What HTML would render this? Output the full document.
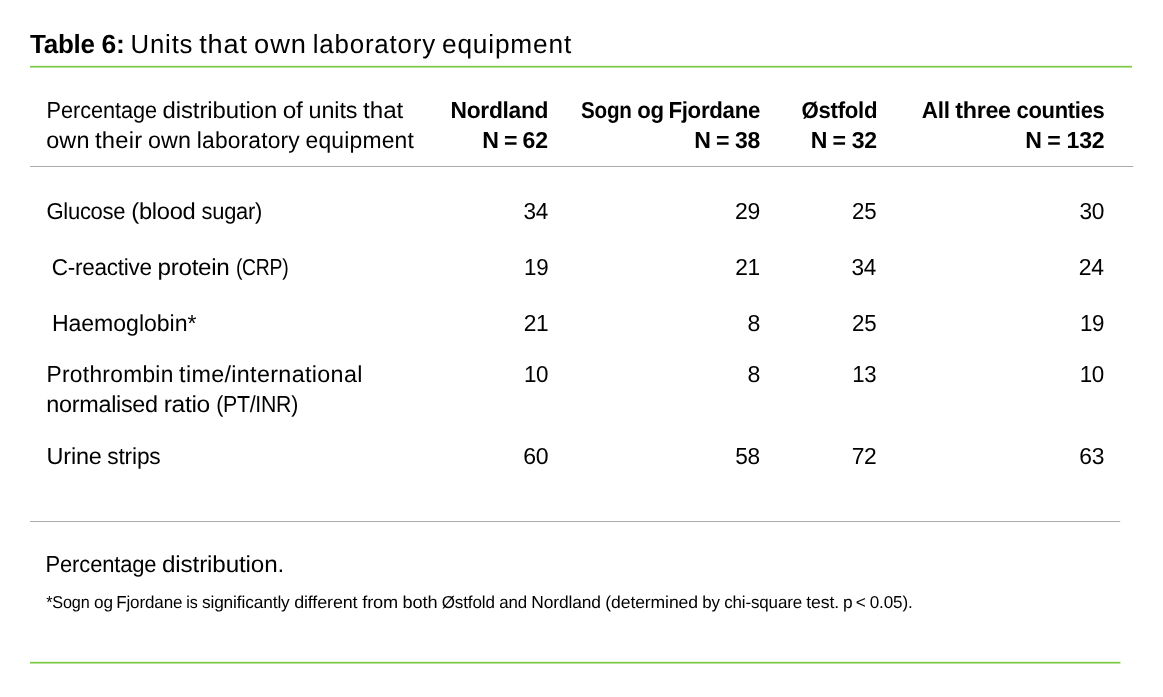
<!DOCTYPE html>
<html lang="en"><head><meta charset="utf-8"><title>Table 6</title>
<style>
html,body{margin:0;padding:0;background:#fff}
body{width:1163px;height:697px;position:relative;overflow:hidden;font-family:"Liberation Sans", sans-serif;color:#000;text-rendering:geometricPrecision}
.t{position:absolute;left:0;width:1163px;height:30px;white-space:nowrap;line-height:30px;font-weight:400;font-size:23.1px}
.t span{position:absolute;left:0;top:0;transform-origin:0 0}
.T{font-size:26.3px}
.F{font-size:17.3px}
.b{font-weight:700}
.ln{position:absolute;left:30px;height:1px;background:#acacac}
.g{height:3px;background:linear-gradient(to bottom,#ebf7e3 0,#ebf7e3 1px,#7ac943 1px,#7ac943 2px,#b6e198 2px,#b6e198 3px)}
</style></head>
<body>
<div class="ln g" style="top:65px;width:1102px"></div>
<div class="ln" style="top:166px;width:1103px;box-shadow:1px 0 0 #e6e6e6"></div>
<div class="ln" style="top:521px;width:1090px;box-shadow:1px 0 0 #ebebeb"></div>
<div class="ln g" style="top:661px;width:1090px"></div>
<div class="ln g" style="top:661px;left:1120px;width:1px;opacity:.45"></div>
<header>
<div class="t T b" style="top:29px;letter-spacing:-0.3px"><span style="transform:translateX(30.09px) scaleX(0.990)">Table</span> <span style="transform:translateX(101.46px) scaleX(1.008)">6:</span></div>
<div class="t T" style="top:29px;letter-spacing:0.82px"><span style="transform:translateX(130.60px) scaleX(0.979)">Units</span> <span style="transform:translateX(199.23px) scaleX(1.032)">that</span> <span style="transform:translateX(254.12px) scaleX(1.037)">own</span> <span style="transform:translateX(312.68px) scaleX(0.985)">laboratory</span> <span style="transform:translateX(441.95px) scaleX(0.999)">equipment</span></div>
</header>
<main role="table" aria-label="Units that own laboratory equipment">
<div role="row">
<div class="t" style="top:95px;letter-spacing:-0.06px"><span style="transform:translateX(46.52px) scaleX(0.940)">Percentage</span> <span style="transform:translateX(162.40px) scaleX(1.036)">distribution</span> <span style="transform:translateX(282.65px) scaleX(1.054)">of</span> <span style="transform:translateX(308.50px) scaleX(1.009)">units</span> <span style="transform:translateX(363.12px) scaleX(1.047)">that</span></div>
<div class="t" style="top:125px;letter-spacing:0.18px"><span style="transform:translateX(46.16px) scaleX(1.014)">own</span> <span style="transform:translateX(95.07px) scaleX(1.031)">their</span> <span style="transform:translateX(147.96px) scaleX(1.009)">own</span> <span style="transform:translateX(196.78px) scaleX(0.987)">laboratory</span> <span style="transform:translateX(305.54px) scaleX(0.991)">equipment</span></div>
<div class="t b" style="top:95px;letter-spacing:-0.3px"><span style="transform:translateX(450.57px) scaleX(0.987)">Nordland</span></div>
<div class="t b" style="top:125px;letter-spacing:-0.15px"><span style="transform:translateX(482.24px)">N</span> <span style="transform:translateX(503.89px)">=</span> <span style="transform:translateX(522.49px) scaleX(1.000)">62</span></div>
<div class="t b" style="top:95px;letter-spacing:-0.3px"><span style="transform:translateX(581.07px) scaleX(0.894)">Sogn</span> <span style="transform:translateX(637.33px) scaleX(0.960)">og</span> <span style="transform:translateX(668.38px) scaleX(0.964)">Fjordane</span></div>
<div class="t b" style="top:125px;letter-spacing:-0.3px"><span style="transform:translateX(694.20px)">N</span> <span style="transform:translateX(716.01px)">=</span> <span style="transform:translateX(735.11px) scaleX(0.995)">38</span></div>
<div class="t b" style="top:95px;letter-spacing:-0.3px"><span style="transform:translateX(801.54px) scaleX(0.961)">Østfold</span></div>
<div class="t b" style="top:125px;letter-spacing:-0.3px"><span style="transform:translateX(810.81px)">N</span> <span style="transform:translateX(832.61px)">=</span> <span style="transform:translateX(851.70px) scaleX(0.998)">32</span></div>
<div class="t b" style="top:95px;letter-spacing:-0.3px"><span style="transform:translateX(921.76px) scaleX(0.973)">All</span> <span style="transform:translateX(955.21px) scaleX(1.011)">three</span> <span style="transform:translateX(1016.49px) scaleX(0.951)">counties</span></div>
<div class="t b" style="top:125px;letter-spacing:-0.19px"><span style="transform:translateX(1025.24px)">N</span> <span style="transform:translateX(1047.19px)">=</span> <span style="transform:translateX(1066.48px) scaleX(1.000)">132</span></div>
</div>
<div role="row">
<div class="t" style="top:196px;letter-spacing:-0.3px"><span style="transform:translateX(46.45px) scaleX(0.954)">Glucose</span> <span style="transform:translateX(131.35px) scaleX(1.027)">(blood</span> <span style="transform:translateX(201.62px) scaleX(0.947)">sugar)</span></div>
<div class="t" style="top:196px;letter-spacing:-0.3px"><span style="transform:translateX(523.42px) scaleX(0.979)">34</span></div>
<div class="t" style="top:196px;letter-spacing:-0.3px"><span style="transform:translateX(734.93px) scaleX(0.996)">29</span></div>
<div class="t" style="top:196px;letter-spacing:-0.3px"><span style="transform:translateX(852.10px) scaleX(0.965)">25</span></div>
<div class="t" style="top:196px;letter-spacing:-0.3px"><span style="transform:translateX(1079.39px) scaleX(0.983)">30</span></div>
</div>
<div role="row">
<div class="t" style="top:252px;letter-spacing:-0.3px"><span style="transform:translateX(51.80px) scaleX(0.977)">C-reactive</span> <span style="transform:translateX(157.53px) scaleX(1.051)">protein</span> <span style="transform:translateX(235.90px) scaleX(0.839)">(CRP)</span></div>
<div class="t" style="top:252px;letter-spacing:-0.3px"><span style="transform:translateX(524.11px) scaleX(0.968)">19</span></div>
<div class="t" style="top:252px;letter-spacing:-0.3px"><span style="transform:translateX(735.21px) scaleX(0.984)">21</span></div>
<div class="t" style="top:252px;letter-spacing:-0.3px"><span style="transform:translateX(851.42px) scaleX(0.979)">34</span></div>
<div class="t" style="top:252px;letter-spacing:-0.3px"><span style="transform:translateX(1078.87px) scaleX(0.993)">24</span></div>
</div>
<div role="row">
<div class="t" style="top:308px;letter-spacing:-0.05px"><span style="transform:translateX(51.91px) scaleX(1.000)">Haemoglobin*</span></div>
<div class="t" style="top:308px;letter-spacing:-0.3px"><span style="transform:translateX(523.71px) scaleX(0.984)">21</span></div>
<div class="t" style="top:308px"><span style="transform:translateX(747.38px)">8</span></div>
<div class="t" style="top:308px;letter-spacing:-0.3px"><span style="transform:translateX(852.10px) scaleX(0.965)">25</span></div>
<div class="t" style="top:308px;letter-spacing:-0.3px"><span style="transform:translateX(1079.91px) scaleX(0.968)">19</span></div>
</div>
<div role="row">
<div class="t" style="top:359px;letter-spacing:0.32px"><span style="transform:translateX(46.44px) scaleX(0.984)">Prothrombin</span> <span style="transform:translateX(179.09px) scaleX(1.011)">time/international</span></div>
<div class="t" style="top:389px;letter-spacing:-0.3px"><span style="transform:translateX(46.30px) scaleX(1.014)">normalised</span> <span style="transform:translateX(163.72px) scaleX(1.065)">ratio</span> <span style="transform:translateX(216.28px) scaleX(0.921)">(PT/INR)</span></div>
<div class="t" style="top:359px;letter-spacing:-0.3px"><span style="transform:translateX(523.92px) scaleX(0.969)">10</span></div>
<div class="t" style="top:359px"><span style="transform:translateX(747.38px)">8</span></div>
<div class="t" style="top:359px;letter-spacing:-0.3px"><span style="transform:translateX(852.23px) scaleX(0.961)">13</span></div>
<div class="t" style="top:359px;letter-spacing:-0.3px"><span style="transform:translateX(1079.72px) scaleX(0.969)">10</span></div>
</div>
<div role="row">
<div class="t" style="top:441px;letter-spacing:-0.17px"><span style="transform:translateX(46.49px) scaleX(1.016)">Urine</span> <span style="transform:translateX(107.27px) scaleX(0.984)">strips</span></div>
<div class="t" style="top:441px;letter-spacing:-0.3px"><span style="transform:translateX(523.22px) scaleX(0.998)">60</span></div>
<div class="t" style="top:441px;letter-spacing:-0.3px"><span style="transform:translateX(735.22px) scaleX(0.981)">58</span></div>
<div class="t" style="top:441px;letter-spacing:-0.3px"><span style="transform:translateX(851.69px) scaleX(0.987)">72</span></div>
<div class="t" style="top:441px;letter-spacing:-0.3px"><span style="transform:translateX(1079.33px) scaleX(0.990)">63</span></div>
</div>
</main>
<footer>
<div class="t" style="top:549px;letter-spacing:-0.14px"><span style="transform:translateX(45.55px) scaleX(0.950)">Percentage</span> <span style="transform:translateX(162.02px) scaleX(1.050)">distribution.</span></div>
<div class="t F" style="top:587px;letter-spacing:-0.13px"><span style="transform:translateX(46.13px) scaleX(0.937)">*Sogn</span> <span style="transform:translateX(93.97px) scaleX(0.993)">og</span> <span style="transform:translateX(116.18px) scaleX(0.985)">Fjordane</span> <span style="transform:translateX(186.31px) scaleX(0.927)">is</span> <span style="transform:translateX(201.90px) scaleX(1.001)">significantly</span> <span style="transform:translateX(294.15px) scaleX(1.038)">different</span> <span style="transform:translateX(362.23px) scaleX(1.052)">from</span> <span style="transform:translateX(402.56px) scaleX(1.051)">both</span> <span style="transform:translateX(441.65px) scaleX(0.987)">Østfold</span> <span style="transform:translateX(499.33px) scaleX(0.974)">and</span> <span style="transform:translateX(531.35px) scaleX(1.005)">Nordland</span> <span style="transform:translateX(605.37px) scaleX(1.019)">(determined</span> <span style="transform:translateX(702.31px) scaleX(0.980)">by</span> <span style="transform:translateX(724.16px) scaleX(0.981)">chi-square</span> <span style="transform:translateX(806.29px) scaleX(1.021)">test.</span> <span style="transform:translateX(843.01px)">p</span> <span style="transform:translateX(855.86px)">&lt;</span> <span style="transform:translateX(869.72px) scaleX(0.988)">0.05).</span></div>
</footer>
</body></html>
